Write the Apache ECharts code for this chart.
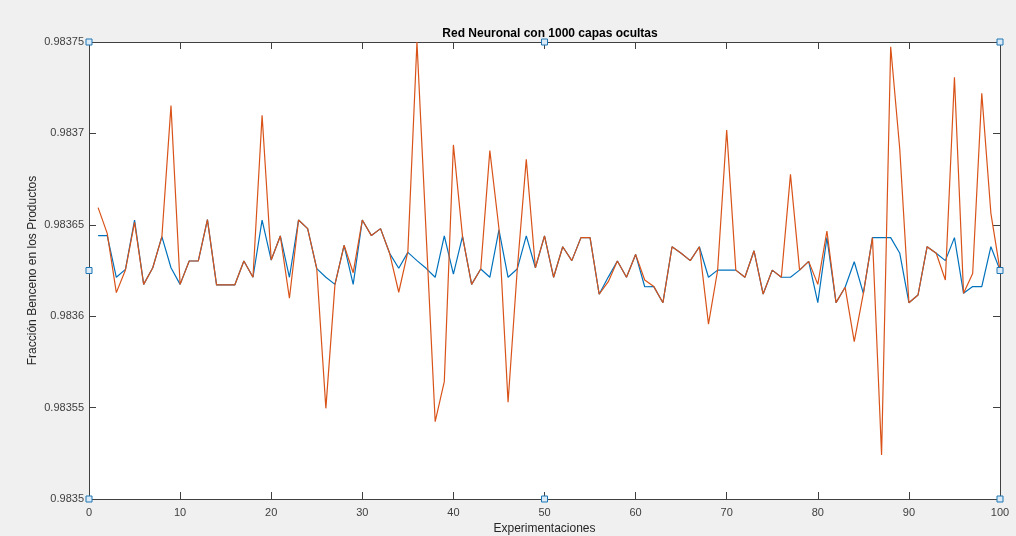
<!DOCTYPE html>
<html lang="es">
<head>
    <meta charset="UTF-8">
    <title>Red Neuronal</title>
    <script src="https://cdn.jsdelivr.net/npm/echarts@6/dist/echarts.min.js"></script>
    <style>
        html, body { margin: 0; padding: 0; background: #f0f0f0; }
    </style>
</head>
<body>
    <div id="main" style="width:1016px;height:536px;"></div>
</body>
<script type="text/javascript">
    var serieAzul = [
        0.9836441, 0.9836441, 0.9836213, 0.9836256, 0.9836526, 0.9836174, 0.9836265, 0.9836435, 0.9836265, 0.9836174,
        0.9836302, 0.9836302, 0.9836528, 0.9836171, 0.9836171, 0.9836171, 0.9836302, 0.9836213, 0.9836526, 0.9836307,
        0.9836439, 0.9836213, 0.9836526, 0.9836479, 0.9836260, 0.9836213, 0.9836174, 0.9836388, 0.9836174, 0.9836526,
        0.9836441, 0.9836479, 0.9836344, 0.9836262, 0.9836349, 0.9836304, 0.9836262, 0.9836213, 0.9836439, 0.9836230,
        0.9836437, 0.9836174, 0.9836258, 0.9836213, 0.9836472, 0.9836213, 0.9836258, 0.9836439, 0.9836265, 0.9836439,
        0.9836213, 0.9836380, 0.9836304, 0.9836430, 0.9836430, 0.9836120, 0.9836214, 0.9836302, 0.9836213, 0.9836338,
        0.9836161, 0.9836162, 0.9836074, 0.9836380, 0.9836344, 0.9836304, 0.9836380, 0.9836213, 0.9836252, 0.9836252,
        0.9836252, 0.9836213, 0.9836358, 0.9836121, 0.9836252, 0.9836213, 0.9836213, 0.9836252, 0.9836300, 0.9836074,
        0.9836430, 0.9836074, 0.9836158, 0.9836298, 0.9836125, 0.9836430, 0.9836430, 0.9836430, 0.9836344, 0.9836074,
        0.9836116, 0.9836380, 0.9836344, 0.9836304, 0.9836430, 0.9836125, 0.9836162, 0.9836162, 0.9836380, 0.9836252
    ];
    var serieNaranja = [
        0.9836594, 0.9836453, 0.9836129, 0.9836253, 0.9836513, 0.9836174, 0.9836265, 0.9836435, 0.9837152, 0.9836174,
        0.9836302, 0.9836302, 0.9836528, 0.9836171, 0.9836171, 0.9836171, 0.9836302, 0.9836213, 0.9837099, 0.9836307,
        0.9836439, 0.9836098, 0.9836526, 0.9836479, 0.9836260, 0.9835496, 0.9836174, 0.9836388, 0.9836238, 0.9836526,
        0.9836441, 0.9836479, 0.9836344, 0.9836131, 0.9836353, 0.9837500, 0.9836460, 0.9835423, 0.9835642, 0.9836937,
        0.9836437, 0.9836174, 0.9836258, 0.9836906, 0.9836480, 0.9835529, 0.9836250, 0.9836858, 0.9836265, 0.9836439,
        0.9836213, 0.9836380, 0.9836304, 0.9836430, 0.9836430, 0.9836120, 0.9836189, 0.9836302, 0.9836213, 0.9836338,
        0.9836198, 0.9836162, 0.9836074, 0.9836380, 0.9836344, 0.9836304, 0.9836380, 0.9835957, 0.9836250, 0.9837019,
        0.9836252, 0.9836213, 0.9836358, 0.9836121, 0.9836252, 0.9836213, 0.9836776, 0.9836252, 0.9836300, 0.9836174,
        0.9836466, 0.9836074, 0.9836158, 0.9835861, 0.9836125, 0.9836430, 0.9835241, 0.9837474, 0.9836912, 0.9836074,
        0.9836116, 0.9836380, 0.9836344, 0.9836198, 0.9837307, 0.9836125, 0.9836234, 0.9837219, 0.9836563, 0.9836252
    ];
    var ticksY = [0.9835, 0.98355, 0.9836, 0.98365, 0.9837, 0.98375];
    var ticksX = [0, 10, 20, 30, 40, 50, 60, 70, 80, 90, 100];

    var azul = [], naranja = [];
    for (var i = 0; i < serieAzul.length; i++) {
        azul.push([i + 1, serieAzul[i]]);
        naranja.push([i + 1, serieNaranja[i]]);
    }

    var fuente = 'Liberation Sans, Arial, Helvetica, sans-serif';
    var colorEje = '#404040';
    var yMin = ticksY[0], yMax = ticksY[ticksY.length - 1];
    var yPaso = 0.00005;

    // marcadores cuadrados azules de las esquinas
    var esquinas = [
        [0, yMax], [50, yMax], [100, yMax],
        [0, (yMin + yMax) / 2], [100, (yMin + yMax) / 2],
        [0, yMin], [50, yMin], [100, yMin]
    ].map(function (c) { return { coord: c }; });

    var ejeX = function (pos, conEtiquetas) {
        return {
            type: 'value', position: pos, min: ticksX[0], max: ticksX[ticksX.length - 1], interval: 10,
            name: conEtiquetas ? 'Experimentaciones' : '',
            nameLocation: 'middle', nameGap: 24,
            nameTextStyle: { fontFamily: fuente, fontSize: 12, color: '#262626' },
            axisLine: { show: true, onZero: false, lineStyle: { color: colorEje, width: 1 } },
            axisTick: { show: true, inside: true, length: 7, lineStyle: { color: colorEje } },
            axisLabel: { show: conEtiquetas, margin: 8, fontFamily: fuente, fontSize: 11, color: '#404040' },
            splitLine: { show: false }
        };
    };
    var ejeY = function (pos, conEtiquetas) {
        return {
            type: 'value', position: pos, min: yMin, max: yMax, interval: yPaso,
            name: conEtiquetas ? 'Fracción Benceno en los Productos' : '',
            nameLocation: 'middle', nameGap: 50, nameMoveOverlap: false,
            nameTextStyle: { fontFamily: fuente, fontSize: 12, color: '#262626' },
            axisLine: { show: true, onZero: false, lineStyle: { color: colorEje, width: 1 } },
            axisTick: { show: true, inside: true, length: 7, lineStyle: { color: colorEje } },
            axisLabel: {
                show: conEtiquetas, margin: 5, fontFamily: fuente, fontSize: 11, color: '#404040',
                formatter: function (v) { return parseFloat(v.toFixed(5)).toString(); }
            },
            splitLine: { show: false }
        };
    };

    var myChart = echarts.init(document.getElementById('main'));
    var option = {
        backgroundColor: '#f0f0f0',
        animation: false,
        title: {
            text: 'Red Neuronal con 1000 capas ocultas',
            left: 545, top: 23, textAlign: 'center',
            textStyle: { fontFamily: fuente, fontSize: 12, fontWeight: 'bold', color: '#000' }
        },
        grid: {
            left: 89, right: 16, top: 42, bottom: 37,
            outerBoundsMode: 'none', containLabel: false,
            show: true, backgroundColor: '#ffffff', borderWidth: 0
        },
        xAxis: [ejeX('bottom', true), ejeX('top', false)],
        yAxis: [ejeY('left', true), ejeY('right', false)],
        series: [
            {
                name: 'azul', type: 'line', data: azul, showSymbol: false,
                lineStyle: { color: '#0072BD', width: 1.2 }, itemStyle: { color: '#0072BD' }
            },
            {
                name: 'naranja', type: 'line', data: naranja, showSymbol: false,
                lineStyle: { color: '#D95319', width: 1.2 }, itemStyle: { color: '#D95319' },
                markPoint: {
                    symbol: 'rect', symbolSize: 6, silent: true,
                    label: { show: false },
                    itemStyle: { color: '#dbeaf7', borderColor: '#1f77b4', borderWidth: 1 },
                    data: esquinas
                }
            }
        ]
    };
    myChart.setOption(option);
</script>
</html>
